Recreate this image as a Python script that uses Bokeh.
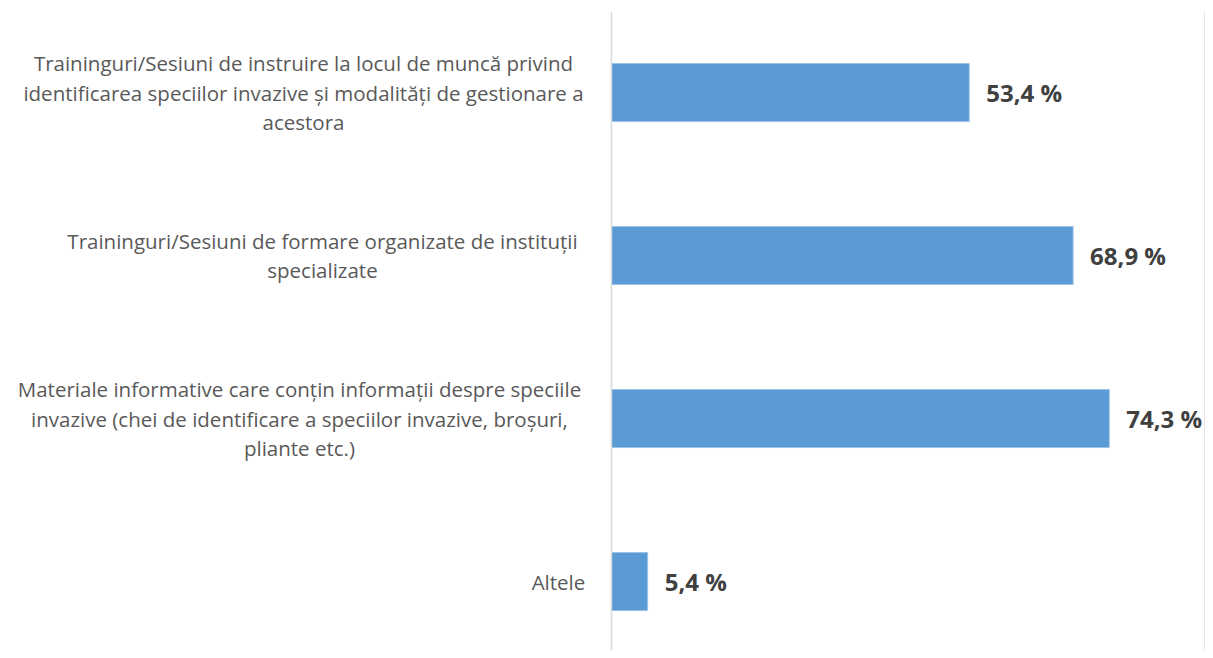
from bokeh.plotting import figure
from bokeh.models import ColumnDataSource, Span
from bokeh.core.properties import value
from bokeh.embed import file_html
from bokeh.resources import INLINE

categories = [
    "Traininguri/Sesiuni de instruire la locul de muncă privind\nidentificarea speciilor invazive și modalități de gestionare a\nacestora",
    "Traininguri/Sesiuni de formare organizate de instituții\nspecializate",
    "Materiale informative care conțin informații despre speciile\ninvazive (chei de identificare a speciilor invazive, broșuri,\npliante etc.)",
    "Altele",
]
values = [53.4, 68.9, 74.3, 5.4]
value_labels = ["53,4 %", "68,9 %", "74,3 %", "5,4 %"]

# style: horizontal offset (px) of each label block's centre from the axis
label_offsets = [-308, -289, -312, -53]

n = len(categories)
ypos = [n - 1 - i for i in range(n)]

src = ColumnDataSource(dict(
    y=ypos, v=values, vl=value_labels, cat=categories, zero=[0] * n, off=label_offsets,
))

p = figure(
    width=1205, height=650,
    x_range=(-91.19, 88.66), y_range=(-0.423, 3.497),
    output_backend="svg", toolbar_location=None,
    min_border_left=0, min_border_right=0, min_border_top=11, min_border_bottom=0,
)
p.axis.visible = False
p.grid.visible = False
p.outline_line_color = None
p.background_fill_color = "white"
p.border_fill_color = "white"

p.add_layout(Span(location=0, dimension="height", line_color="#d9d9d9", line_width=1.5))
p.add_layout(Span(location=88.5, dimension="height", line_color="#e6e6e6", line_width=1))

p.hbar(y="y", left=0, right="v", height=0.356, source=src,
       fill_color="#5B9BD5", line_color="#9dc3e6", line_width=1)

p.text(x="v", y="y", text="vl", source=src, x_offset=17,
       text_align="left", text_baseline="middle",
       text_font=value("Open Sans"), text_font_style="bold",
       text_font_size="24px", text_color="#404040")

p.text(x="zero", y="y", text="cat", source=src, x_offset="off",
       text_align="center", text_baseline="middle",
       text_font=value("Open Sans"), text_font_size="20.5px",
       text_color="#595959", text_line_height=1.04)

open("out.html", "w").write(file_html(p, INLINE))
